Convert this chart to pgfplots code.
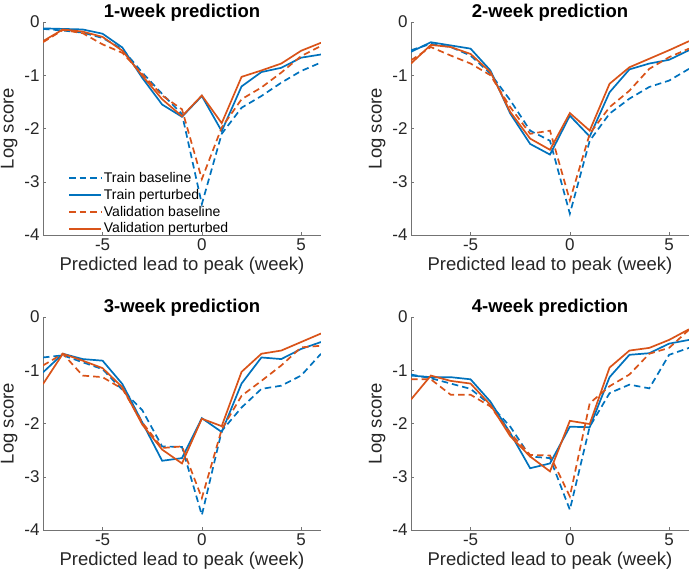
\documentclass[border=0pt]{standalone}
\usepackage{pgfplots}
\usepackage{pgfplotstable}
\pgfplotsset{compat=1.18}
\usepackage{fontspec}
\setmainfont{Liberation Sans}

\definecolor{mblue}{rgb}{0,0.447,0.741}
\definecolor{morange}{rgb}{0.85,0.325,0.098}

\pgfplotstableread{
x tb tp vb vp
-8 -0.13 -0.12 -0.38 -0.36
-7 -0.16 -0.13 -0.15 -0.14
-6 -0.20 -0.14 -0.21 -0.18
-5 -0.30 -0.22 -0.42 -0.28
-4 -0.51 -0.48 -0.58 -0.54
-3 -0.95 -1.05 -0.98 -1.01
-2 -1.35 -1.55 -1.38 -1.45
-1 -1.73 -1.78 -1.64 -1.77
0 -3.42 -1.39 -2.95 -1.38
1 -2.10 -2.05 -1.98 -1.90
2 -1.61 -1.21 -1.45 -1.03
3 -1.39 -0.94 -1.23 -0.91
4 -1.14 -0.86 -0.95 -0.78
5 -0.92 -0.67 -0.64 -0.54
6 -0.76 -0.61 -0.45 -0.39
}\tableA

\pgfplotstableread{
x tb tp vb vp
-8 -0.53 -0.56 -0.72 -0.78
-7 -0.41 -0.38 -0.47 -0.43
-6 -0.47 -0.44 -0.63 -0.47
-5 -0.63 -0.50 -0.78 -0.60
-4 -0.97 -0.91 -1.00 -0.94
-3 -1.47 -1.72 -1.60 -1.69
-2 -2.04 -2.29 -2.10 -2.19
-1 -2.23 -2.49 -2.04 -2.40
0 -3.60 -1.76 -3.35 -1.71
1 -2.23 -2.15 -2.10 -2.04
2 -1.72 -1.32 -1.60 -1.16
3 -1.44 -0.89 -1.29 -0.85
4 -1.22 -0.78 -0.88 -0.69
5 -1.10 -0.71 -0.66 -0.53
6 -0.88 -0.53 -0.50 -0.36
}\tableB

\pgfplotstableread{
x tb tp vb vp
-8 -0.76 -1.04 -0.91 -1.26
-7 -0.72 -0.69 -0.69 -0.69
-6 -0.85 -0.79 -1.10 -0.82
-5 -0.98 -0.82 -1.13 -0.96
-4 -1.37 -1.26 -1.35 -1.32
-3 -1.75 -1.98 -1.98 -2.02
-2 -2.43 -2.70 -2.46 -2.49
-1 -2.44 -2.65 -2.43 -2.75
0 -3.72 -1.90 -3.40 -1.91
1 -2.14 -2.16 -2.11 -2.05
2 -1.70 -1.25 -1.48 -1.03
3 -1.35 -0.76 -1.20 -0.69
4 -1.29 -0.79 -0.91 -0.63
5 -1.10 -0.60 -0.57 -0.47
6 -0.69 -0.47 -0.54 -0.31
}\tableC

\pgfplotstableread{
x tb tp vb vp
-8 -1.08 -1.10 -1.17 -1.55
-7 -1.15 -1.13 -1.17 -1.10
-6 -1.25 -1.13 -1.46 -1.20
-5 -1.35 -1.17 -1.46 -1.25
-4 -1.65 -1.59 -1.68 -1.65
-3 -2.06 -2.18 -2.18 -2.24
-2 -2.62 -2.84 -2.59 -2.62
-1 -2.65 -2.75 -2.60 -2.90
0 -3.62 -2.06 -3.37 -1.95
1 -2.06 -2.07 -1.62 -2.01
2 -1.43 -1.13 -1.30 -0.95
3 -1.27 -0.71 -1.08 -0.63
4 -1.34 -0.68 -0.69 -0.58
5 -0.71 -0.50 -0.58 -0.43
6 -0.58 -0.43 -0.24 -0.23
}\tableD

\newcommand{\lt}[1]{\makebox[140pt][l]{#1}}

\pgfplotsset{
  panel/.style={
    scale only axis, width=278pt, height=213pt,
    anchor=south west,
    xmin=-8, xmax=6, ymin=-4, ymax=0,
    xtick={-5,0,5}, ytick={-4,-3,-2,-1,0},
    axis x line*=bottom, axis y line*=left,
    axis line style={black!55, line width=0.5pt, -},
    tick align=inside, major tick length=3pt,
    tick style={black!55},
    /pgf/number format/assume math mode=true,
    tick label style={font=\fontsize{17}{20}\selectfont, text=black!85},
    xlabel={Predicted lead to peak (week)},
    ylabel={Log score},
    label style={font=\fontsize{18.5}{22}\selectfont, text=black!85},
    xlabel style={at={(axis description cs:0.5,-0.146)}, anchor=center},
    ylabel style={at={(axis description cs:-0.122,0.5)}, anchor=center, inner sep=0pt},
    every axis title shift=0pt,
    title style={at={(axis description cs:0.5,1.045)}, anchor=center, inner sep=0pt, font=\fontsize{18.5}{22}\selectfont\bfseries},
    clip=true,
  },
}

\begin{document}
\begin{tikzpicture}[x=1pt,y=1pt]
\path[use as bounding box] (0,0) rectangle (689,573);

\begin{axis}[panel, at={(43pt,338pt)}, title={1-week prediction},
  legend style={at={(axis description cs:0.09,-0.008)}, anchor=south west,
    draw=none, fill=none,
    font=\fontsize{14}{16.3}\selectfont, inner xsep=0pt, inner ysep=0pt,
    row sep=1.2pt},
  legend image code/.code={\draw[#1] (0pt,0pt) -- (32pt,0pt);}]
\addplot[color=mblue, line width=1.7pt, dash pattern=on 6.5pt off 4pt] table[x=x,y=tb] {\tableA};
\addlegendentry{\lt{Train baseline}}
\addplot[color=mblue, line width=1.7pt] table[x=x,y=tp] {\tableA};
\addlegendentry{\lt{Train perturbed}}
\addplot[color=morange, line width=1.7pt, dash pattern=on 6.5pt off 4pt] table[x=x,y=vb] {\tableA};
\addlegendentry{\lt{Validation baseline}}
\addplot[color=morange, line width=1.7pt] table[x=x,y=vp] {\tableA};
\addlegendentry{\lt{Validation perturbed}}
\end{axis}

\begin{axis}[panel, at={(411pt,338pt)}, title={2-week prediction}]
\addplot[color=mblue, line width=1.7pt, dash pattern=on 6.5pt off 4pt] table[x=x,y=tb] {\tableB};
\addplot[color=mblue, line width=1.7pt] table[x=x,y=tp] {\tableB};
\addplot[color=morange, line width=1.7pt, dash pattern=on 6.5pt off 4pt] table[x=x,y=vb] {\tableB};
\addplot[color=morange, line width=1.7pt] table[x=x,y=vp] {\tableB};
\end{axis}

\begin{axis}[panel, at={(43pt,43pt)}, title={3-week prediction}]
\addplot[color=mblue, line width=1.7pt, dash pattern=on 6.5pt off 4pt] table[x=x,y=tb] {\tableC};
\addplot[color=mblue, line width=1.7pt] table[x=x,y=tp] {\tableC};
\addplot[color=morange, line width=1.7pt, dash pattern=on 6.5pt off 4pt] table[x=x,y=vb] {\tableC};
\addplot[color=morange, line width=1.7pt] table[x=x,y=vp] {\tableC};
\end{axis}

\begin{axis}[panel, at={(411pt,43pt)}, title={4-week prediction}]
\addplot[color=mblue, line width=1.7pt, dash pattern=on 6.5pt off 4pt] table[x=x,y=tb] {\tableD};
\addplot[color=mblue, line width=1.7pt] table[x=x,y=tp] {\tableD};
\addplot[color=morange, line width=1.7pt, dash pattern=on 6.5pt off 4pt] table[x=x,y=vb] {\tableD};
\addplot[color=morange, line width=1.7pt] table[x=x,y=vp] {\tableD};
\end{axis}
\end{tikzpicture}
\end{document}
